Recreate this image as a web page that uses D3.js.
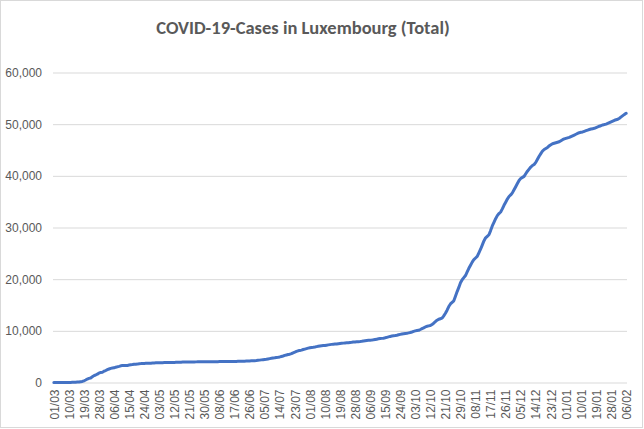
<!DOCTYPE html>
<html>
<head>
<meta charset="utf-8">
<script src="https://cdn.jsdelivr.net/npm/d3@7"></script>
<style>
  body { margin: 0; background: #fff; }
  svg { display: block; font-family: Carlito, Calibri, Lato, sans-serif; }
  .grid line { stroke: #d9d9d9; stroke-width: 1; }
  .grid text, .xaxis text { fill: #595959; font-size: 12px; }
</style>
</head>
<body>
<script>
//cumulative cases, one value per day, month by month
var mar = [1,1,1,2,2,3,4,5,5,5,7,26,34,51,77,81,140,203,335,484,670,798,875,1099,1333,1453,1605,1831,1950,1988,2178];
var apr = [2319,2487,2612,2729,2804,2843,2970,3034,3115,3223,3270,3281,3292,3307,3373,3444,3480,3537,3550,3558,3618,3654,3665,3695,3711,3723,3729,3741,3769,3784];
var may = [3802,3812,3824,3828,3840,3851,3859,3871,3877,3886,3888,3894,3904,3915,3923,3930,3945,3947,3958,3971,3980,3981,3988,3990,3992,3993,3995,4000,4008,4012,4016];
var jun = [4019,4020,4027,4032,4035,4039,4040,4043,4047,4049,4052,4055,4060,4063,4066,4072,4078,4085,4093,4104,4114,4125,4133,4145,4160,4176,4190,4210,4232,4255];
var jul = [4290,4330,4380,4420,4460,4500,4560,4620,4680,4740,4790,4850,4880,4950,5040,5130,5240,5330,5420,5480,5600,5750,5880,6020,6130,6210,6270,6380,6470,6560,6650];
var aug = [6720,6770,6820,6880,6950,7020,7080,7120,7150,7180,7230,7280,7330,7380,7410,7430,7450,7500,7540,7580,7620,7650,7670,7690,7730,7770,7820,7860,7890,7910,7930];
var sep = [7970,8020,8070,8120,8160,8190,8220,8270,8330,8390,8450,8500,8540,8580,8650,8740,8830,8920,8990,9040,9080,9150,9230,9310,9390,9450,9490,9530,9600,9680];
var oct = [9780,9890,9990,10060,10110,10260,10420,10580,10750,10880,10960,11030,11240,11480,11760,12050,12250,12350,12450,12900,13400,14000,14700,15200,15500,15800,16700,17600,18400,19300,19900];
var nov = [20300,20700,21400,22100,22700,23300,23800,24100,24400,25100,25800,26600,27400,28000,28300,28600,29400,30300,31000,31700,32300,32700,33000,33600,34300,34900,35500,36000,36300,36700];
var dec = [37300,37900,38500,39100,39500,39700,39900,40400,40900,41300,41700,42000,42200,42600,43200,43800,44300,44800,45100,45300,45500,45800,46000,46200,46300,46400,46500,46600,46800,47000,47150];
var jan = [47250,47350,47450,47600,47750,47900,48050,48200,48350,48430,48500,48620,48740,48850,48960,49060,49130,49200,49330,49460,49600,49730,49850,49920,50000,50150,50300,50450,50600,50750,50850];
var feb = [50950,51150,51400,51650,51900,52100];

//category labels shown under the axis (every 9th day)
var tickLabels = ["01/03","10/03","19/03","28/03","06/04","15/04","24/04","03/05","12/05","21/05","30/05",
    "08/06","17/06","26/06","05/07","14/07","23/07","01/08","10/08","19/08","28/08","06/09","15/09",
    "24/09","03/10","12/10","21/10","29/10","08/11","17/11","26/11","05/12","14/12","23/12","01/01",
    "10/01","19/01","28/01","06/02"];
var yTicks = [0,10000,20000,30000,40000,50000,60000];

var cases = [].concat(mar, apr, may, jun, jul, aug, sep, oct, nov, dec, jan, feb);

var width = 644,
    height = 429;

var svg = d3.select("body")
    .append("svg")
    .attr("width", width)
    .attr("height", height);

//chart area border
svg.append("rect")
    .attr("x", 0.5).attr("y", 0.5)
    .attr("width", width - 2).attr("height", height - 2)
    .attr("fill", "#fff")
    .attr("stroke", "#d9d9d9");

var plotLeft = 53, plotRight = 627, plotTop = 72.5, plotBottom = 382.5;

var x = d3.scalePoint()
    .domain(d3.range(cases.length))
    .range([plotLeft, plotRight])
    .padding(0.5);

var y = d3.scaleLinear()
    .domain([0, 60000])
    .range([plotBottom, plotTop]);

//gridlines + value labels
var grid = svg.append("g")
    .attr("class", "grid")
    .attr("transform", "translate(" + plotLeft + ",0)")
    .call(d3.axisLeft(y)
        .tickValues(yTicks)
        .tickSize(-(plotRight - plotLeft))
        .tickPadding(11)
        .tickFormat(d3.format(",")));
grid.select(".domain").remove();

//category axis
var xaxis = svg.append("g")
    .attr("class", "xaxis")
    .attr("transform", "translate(0," + plotBottom + ")")
    .call(d3.axisBottom(x)
        .tickValues(tickLabels.map(function(d, i){ return i * 9; }))
        .tickSize(0)
        .tickFormat(function(d){ return tickLabels[d / 9]; }));
xaxis.select(".domain").remove();
xaxis.selectAll("text")
    .attr("transform", "rotate(-90)")
    .attr("text-anchor", "end")
    .attr("x", -7)
    .attr("y", 0)
    .attr("dy", "0.35em");

//the series
var line = d3.line()
    .x(function(d, i){ return x(i); })
    .y(function(d){ return y(d); });

svg.append("path")
    .datum(cases)
    .attr("fill", "none")
    .attr("stroke", "#4472c4")
    .attr("stroke-width", 3)
    .attr("stroke-linejoin", "round")
    .attr("stroke-linecap", "round")
    .attr("d", line);

//title
svg.append("text")
    .attr("x", 303)
    .attr("y", 34)
    .attr("text-anchor", "middle")
    .attr("fill", "#595959")
    .attr("font-size", "18.5px")
    .attr("font-weight", "bold")
    .text("COVID-19-Cases in Luxembourg (Total)");
</script>
</body>
</html>
